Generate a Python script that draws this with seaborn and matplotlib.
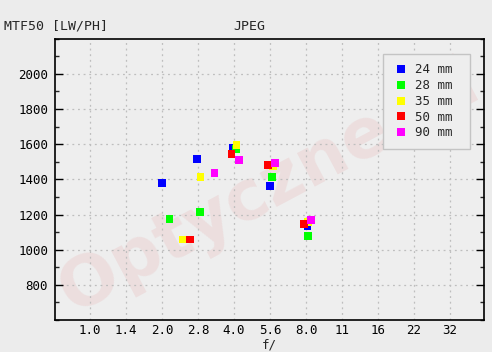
import matplotlib
matplotlib.use("Agg")
import matplotlib.pyplot as plt
import seaborn as sns
import pandas as pd
import numpy as np
from matplotlib.ticker import MultipleLocator, FixedLocator, NullLocator

# ---- data ----
series = ["24 mm", "28 mm", "35 mm", "50 mm", "90 mm"]
colors = ["#0000FF", "#00FF00", "#FFFF00", "#FF0000", "#FF00FF"]
f_24 = [2.0, 2.8, 3.97, 5.66, 8.1]
v_24 = [1379, 1515, 1580, 1362, 1136]
f_28 = [2.15, 2.89, 4.08, 5.78, 8.17]
v_28 = [1174, 1214, 1572, 1413, 1078]
f_35 = [2.44, 2.9, 4.1, 5.83, 8.17]
v_35 = [1057, 1413, 1597, 1473, 1159]
f_50 = [2.62, 3.9, 5.54, 7.85]
v_50 = [1057, 1544, 1481, 1146]
f_90 = [3.32, 4.2, 5.92, 8.37]
v_90 = [1436, 1510, 1493, 1169]
tick_labels = ["1.0", "1.4", "2.0", "2.8", "4.0", "5.6", "8.0", "11", "16", "22", "32"]

rows = []
for name, fs, vs in zip(series, [f_24, f_28, f_35, f_50, f_90],
                        [v_24, v_28, v_35, v_50, v_90]):
    for f, v in zip(fs, vs):
        rows.append({"f": f, "mtf": v, "lens": name})
df = pd.DataFrame(rows)

sns.set_theme(style="white")
mono = ["DejaVu Sans Mono"]
plt.rcParams["font.family"] = mono
bg = "#ECECEC"

fig = plt.figure(figsize=(4.92, 3.52), dpi=100, facecolor=bg)
ax = fig.add_axes([55/492, 1-320/352, 429/492, (320-38.7)/352])
ax.set_facecolor("#EEEEEE")

ax.set_xscale("log", base=2)
ax.set_xlim(2**(-0.97/2), 2**(10.94/2))
ax.set_ylim(600, 2200)

# watermark
ax.text(0.50, 0.47, "Optyczne.pl", transform=ax.transAxes, rotation=28,
        fontsize=50, fontweight="bold", family="DejaVu Sans",
        color="#E08080", alpha=0.14, ha="center", va="center",
        zorder=0, clip_on=True)

sns.scatterplot(data=df, x="f", y="mtf", hue="lens", hue_order=series,
                palette=colors, marker="s", s=30, linewidth=0, ax=ax,
                zorder=3, legend=True)

xt = [2**(i/2) for i in range(11)]
ax.xaxis.set_major_locator(FixedLocator(xt))
ax.xaxis.set_minor_locator(NullLocator())
ax.set_xticklabels(tick_labels)
ax.yaxis.set_major_locator(FixedLocator([800, 1000, 1200, 1400, 1600, 1800, 2000]))
ax.yaxis.set_minor_locator(MultipleLocator(100))

ax.grid(True, which="major", color="#BEBEBE", linestyle=(0, (1.5, 3)), linewidth=0.9)
ax.tick_params(axis="x", which="both", bottom=False, top=False, length=0,
               labelsize=9, pad=3, colors="black")
ax.tick_params(axis="y", which="major", left=True, right=True, direction="in",
               length=6, width=1, labelsize=9, pad=5, colors="black")
ax.tick_params(axis="y", which="minor", left=True, right=True, direction="in",
               length=3, width=1)
for sp in ax.spines.values():
    sp.set_color("black")
    sp.set_linewidth(1.2)

ax.set_xlabel("f/", fontsize=9, labelpad=1)
ax.set_ylabel("")

leg = ax.legend(loc="upper left", bbox_to_anchor=(0.7646, 0.615, 0.2028, 0.3306),
                mode="expand", frameon=True,
                fancybox=False, edgecolor="#C4C4C4", facecolor="#EEEEEE",
                framealpha=1, fontsize=9, handletextpad=0.4, labelspacing=0.22,
                borderpad=0.75, handlelength=1.4, markerscale=1.0, borderaxespad=0)
leg.get_frame().set_linewidth(1.0)

fig.text(4/492, 1-26/352, "MTF50 [LW/PH]", fontsize=9.5, va="center", ha="left")
fig.text(249/492, 1-26/352, "JPEG", fontsize=9.5, va="center", ha="center")

fig.savefig("out.png", dpi=100, facecolor=bg)
